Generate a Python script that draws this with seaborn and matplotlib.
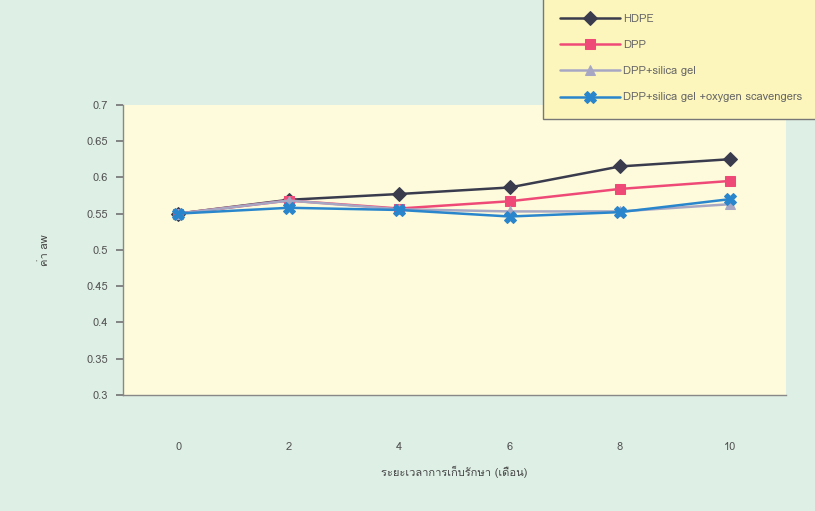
import seaborn as sns
import matplotlib.pyplot as plt
from matplotlib import font_manager, ft2font
import numpy as np
import pandas as pd

months = ["0", "2", "4", "6", "8", "10"]
hdpe = [0.550, 0.569, 0.577, 0.586, 0.615, 0.625]
dpp = [0.550, 0.568, 0.557, 0.567, 0.584, 0.595]
dpp_silica = [0.550, 0.568, 0.556, 0.553, 0.553, 0.563]
dpp_silica_o2 = [0.550, 0.558, 0.555, 0.546, 0.552, 0.570]
series_names = ["HDPE", "DPP", "DPP+silica gel", "DPP+silica gel +oxygen scavengers"]


def find_thai_font():
    # look for any installed family that has Thai glyphs
    for f in font_manager.fontManager.ttflist:
        try:
            ft = ft2font.FT2Font(f.fname)
            if ft.get_char_index(ord("ก")) and ft.get_char_index(ord("เ")):
                return f.name
        except Exception:
            continue
    return None


sns.set_theme(style="white")
thai = find_thai_font()
families = ([thai] if thai else []) + ["DejaVu Sans"]
plt.rcParams["font.family"] = families

fig = plt.figure(figsize=(8.15, 5.11), dpi=100)
fig.patch.set_facecolor("#deefe5")
ax = fig.add_axes([0.151, 0.227, 0.813, 0.568])
ax.set_facecolor("#fdfbdc")

x = np.arange(len(months))
styles = [
    (hdpe, "#3a3c4e", "D", 7),
    (dpp, "#ef4a77", "s", 7),
    (dpp_silica, "#a7a7c4", "^", 7),
    (dpp_silica_o2, "#2a86cc", "X", 8),
]
for name, (vals, color, mk, ms) in zip(series_names, styles):
    sns.lineplot(x=x, y=vals, ax=ax, color=color, marker=mk, markersize=ms,
                 markeredgecolor=color, linewidth=1.8, label=name, legend=False)

ax.set_xlim(-0.5, len(months) - 0.5)
ax.set_ylim(0.3, 0.7)
ax.set_yticks(np.arange(0.3, 0.701, 0.05))
ax.set_yticklabels(["0.3", "0.35", "0.4", "0.45", "0.5", "0.55", "0.6", "0.65", "0.7"])
ax.set_xticks(x)
ax.set_xticklabels(months)
ax.set_xticks(np.arange(-0.5, len(months), 1), minor=True)
ax.tick_params(axis="x", which="major", length=0, pad=34, labelsize=8, labelcolor="#555555")
ax.tick_params(axis="x", which="minor", length=5, color="#777777", direction="out")
ax.tick_params(axis="y", length=5, color="#777777", direction="out", left=True,
               labelsize=8, labelcolor="#555555", pad=6)

for s in ["top", "right"]:
    ax.spines[s].set_visible(False)
for s in ["left", "bottom"]:
    ax.spines[s].set_color("#888888")
    ax.spines[s].set_linewidth(1)

ax.set_xlabel("ระยะเวลาการเก็บรักษา (เดือน)", fontsize=8, color="#444444", labelpad=10)
ax.set_ylabel("ค่า aw", fontsize=8, color="#444444", labelpad=26)

handles, labels = ax.get_legend_handles_labels()
leg = fig.legend(handles, labels, loc="upper right", bbox_to_anchor=(1.005, 1.005),
                 fontsize=8, handlelength=5.4, handletextpad=0.3, labelspacing=1.45,
                 borderpad=1.5, borderaxespad=0,
                 frameon=True, fancybox=False, facecolor="#fdf6bc", edgecolor="#777777",
                 labelcolor="#666666")
leg.get_frame().set_alpha(1)

plt.savefig("out.png", dpi=100, facecolor=fig.get_facecolor())
plt.close()
